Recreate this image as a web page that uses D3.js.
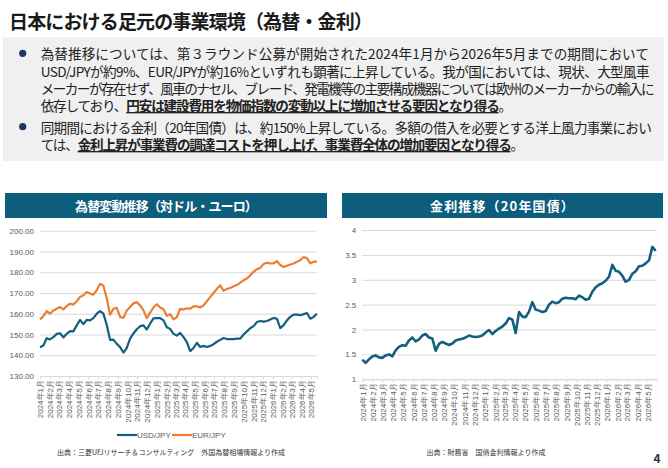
<!DOCTYPE html>
<html>
<head>
<meta charset="utf-8">
<script src="https://cdn.jsdelivr.net/npm/d3@7"></script>
<style>
  html, body { margin: 0; padding: 0; background: #fff; }
  svg { display: block; font-family: "Noto Sans CJK JP", "Noto Sans", sans-serif; }
</style>
</head>
<body>
<div id="page"></div>
<script>
// 為替（USD/JPY, EUR/JPY）: 2024年1月〜2026年5月中旬、ほぼ等間隔のサンプル
const usdJpy = [143.9,144.7,148.2,147.6,148.7,150.3,150.6,148.6,150.3,151.6,
  151.5,154.4,157.0,155.0,157.0,156.8,157.9,160.0,161.3,160.0,
  154.6,147.4,147.5,145.5,143.9,141.3,143.5,148.0,150.5,152.5,
  154.0,154.4,152.4,155.2,157.8,157.9,157.9,156.8,153.5,152.7,
  150.3,149.5,150.8,148.7,146.3,142.0,143.5,146.0,144.0,144.5,
  144.0,144.5,145.3,146.5,147.4,148.3,147.8,147.8,147.8,148.0,
  148.0,150.0,151.5,153.0,154.0,156.0,156.5,156.2,156.5,157.2,
  158.0,157.5,153.1,154.5,156.8,158.5,159.6,159.6,159.3,159.8,
  160.3,157.6,158.5,160.0];
const eurJpy = [157.3,158.8,161.3,160.0,161.6,162.4,163.2,162.1,163.7,164.8,
  164.4,166.0,168.1,168.9,170.5,169.7,169.2,171.3,174.5,173.5,
  167.5,159.5,162.4,162.8,158.5,158.0,161.5,163.2,165.0,165.6,
  164.0,161.6,157.9,160.5,163.0,164.6,163.0,162.2,159.0,159.8,
  157.3,158.4,162.4,162.0,162.6,162.4,163.5,163.6,163.0,164.0,
  166.0,168.0,170.0,172.0,173.7,171.0,172.0,172.4,173.2,173.8,
  175.0,176.1,177.0,178.5,180.2,181.5,182.0,184.0,184.6,184.2,
  184.3,185.3,183.5,182.5,183.1,183.7,184.2,185.0,185.8,187.3,
  186.7,184.3,185.0,185.3];
// 20年国債利回り(%)
const jgb20 = [1.395,1.33,1.40,1.46,1.48,1.44,1.43,1.48,1.50,1.46,
  1.58,1.65,1.685,1.675,1.78,1.84,1.76,1.80,1.88,1.91,
  1.84,1.82,1.575,1.71,1.75,1.72,1.69,1.72,1.78,1.80,
  1.815,1.84,1.88,1.86,1.85,1.86,1.88,1.94,1.99,1.91,
  1.97,2.02,2.06,2.12,2.23,2.20,1.93,2.35,2.26,2.25,
  2.36,2.55,2.40,2.38,2.35,2.37,2.50,2.56,2.53,2.55,
  2.62,2.64,2.63,2.63,2.61,2.68,2.65,2.60,2.62,2.76,
  2.85,2.90,2.93,2.98,3.06,3.30,3.18,3.16,3.08,2.96,
  3.00,3.12,3.17,3.27,3.28,3.33,3.39,3.66,3.58];

const fxTicks = [130, 140, 150, 160, 170, 180, 190, 200];
const rateTicks = [1, 1.5, 2, 2.5, 3, 3.5, 4];
const seriesNames = ["USD/JPY", "EUR/JPY"];
const colors = { usd: "#12607d", eur: "#ee7d31", bar: "#0d5e7c" };

const title = "日本における足元の事業環境（為替・金利）";
// 本文: 各行 [通常, 太字下線, 通常]
const bodyLines = [
  ["為替推移については、第３ラウンド公募が開始された2024年1月から2026年5月までの期間において", "", ""],
  ["USD/JPYが約9%、EUR/JPYが約16%といずれも顕著に上昇している。我が国においては、現状、大型風車", "", ""],
  ["メーカーが存在せず、風車のナセル、ブレード、発電機等の主要構成機器については欧州のメーカーからの輸入に", "", ""],
  ["依存しており、", "円安は建設費用を物価指数の変動以上に増加させる要因となり得る", "。"],
  ["同期間における金利（20年国債）は、約150%上昇している。多額の借入を必要とする洋上風力事業におい", "", ""],
  ["ては、", "金利上昇が事業費の調達コストを押し上げ、事業費全体の増加要因となり得る", "。"]
];
const lineY = [53.3, 70.5, 87.5, 105, 126.7, 144];
const lineEnd = [649, 649, 653, 511, 651, 523];

const W = 668, H = 468;
const svg = d3.select("#page").append("svg")
  .attr("width", W).attr("height", H)
  .attr("viewBox", [0, 0, W, H]);

// 文字間隔で行幅を合わせる
function fit(sel, target) {
  const n = sel.text().length;
  const w = sel.node().getComputedTextLength();
  sel.style("letter-spacing", ((target - w) / n) + "px");
}

// タイトル
svg.append("text")
  .attr("x", 9).attr("y", 20)
  .attr("dominant-baseline", "central")
  .style("font-size", "19px").style("font-weight", "bold")
  .attr("fill", "#1a1a1a")
  .text(title)
  .call(fit, 363);

// 本文ボックス
svg.append("rect")
  .attr("x", 3).attr("y", 37).attr("width", 661).attr("height", 124)
  .attr("fill", "#f0f0f0");

[0, 4].forEach(i => {
  svg.append("circle").attr("cx", 22.7).attr("cy", lineY[i]).attr("r", 3.6).attr("fill", "#1f3768");
});

bodyLines.forEach((parts, i) => {
  const t = svg.append("text")
    .attr("x", 40.7).attr("y", lineY[i])
    .attr("dominant-baseline", "central")
    .style("font-size", "13.6px")
    .attr("fill", "#222");
  t.append("tspan").text(parts[0]);
  if (parts[1]) {
    t.append("tspan").style("font-weight", "bold").style("text-decoration", "underline").text(parts[1]);
    t.append("tspan").text(parts[2]);
  }
  fit(t, lineEnd[i] - 40.7);
});

const monthFmt = d => `${d.getFullYear()}年${d.getMonth() + 1}月`;
const months = d3.timeMonth.range(new Date(2024, 0, 1), new Date(2026, 4, 2));

function datesFor(n, start, end) {
  const s = +start, e = +end;
  return d3.range(n).map(i => new Date(s + (e - s) * i / (n - 1)));
}

function panel(opt) {
  const g = svg.append("g");
  // 見出しバー
  g.append("rect")
    .attr("x", opt.bar[0]).attr("y", 193).attr("width", opt.bar[1]).attr("height", 25)
    .attr("fill", colors.bar);
  g.append("text")
    .attr("x", opt.bar[0] + opt.bar[1] / 2).attr("y", 205.5)
    .attr("text-anchor", "middle").attr("dominant-baseline", "central")
    .attr("fill", "#fff").style("font-size", "13px").style("font-weight", "bold")
    .text(opt.head)
    .call(fit, opt.headW);

  const x = d3.scaleTime().domain(opt.xDomain).range(opt.xRange);
  const y = d3.scaleLinear().domain(opt.yDomain).range(opt.yRange);

  // グリッド・Y軸
  const ya = g.append("g")
    .attr("transform", `translate(${opt.xRange[0]},0)`)
    .call(d3.axisLeft(y).tickValues(opt.yTicks).tickFormat(opt.yFmt)
      .tickSize(-(opt.xRange[1] - opt.xRange[0])).tickPadding(6));
  ya.select(".domain").remove();
  ya.selectAll(".tick line").attr("stroke", "#d9d9d9").attr("stroke-width", 1);
  ya.selectAll(".tick text").attr("fill", "#595959")
    .style("font-family", "'Liberation Sans', Arial, sans-serif").style("font-size", "8px");

  // X軸
  const xa = g.append("g")
    .attr("transform", `translate(0,${opt.yRange[0]})`)
    .call(d3.axisBottom(x).tickValues(months).tickFormat(monthFmt).tickSize(3));
  xa.select(".domain").attr("stroke", "#d9d9d9");
  xa.selectAll(".tick line").attr("stroke", "#d9d9d9");
  xa.selectAll(".tick text")
    .attr("transform", "rotate(-90)")
    .attr("text-anchor", "end")
    .attr("x", -4).attr("y", 0).attr("dy", "0.35em")
    .attr("fill", "#595959").style("font-size", "8px");

  // 系列
  opt.series.forEach(s => {
    const dates = datesFor(s.values.length, opt.xDomain[0], s.end);
    g.append("path")
      .datum(s.values)
      .attr("fill", "none")
      .attr("stroke", s.color)
      .attr("stroke-width", opt.lw)
      .attr("stroke-linejoin", "round")
      .attr("d", d3.line().x((d, i) => x(dates[i])).y(d => y(d)));
  });

  g.append("text")
    .attr("x", opt.srcX).attr("y", 451.5)
    .attr("text-anchor", "middle").attr("dominant-baseline", "central")
    .attr("fill", "#333").style("font-size", "7px")
    .text(opt.src);
  return g;
}

panel({
  bar: [5, 322], head: "為替変動推移（対ドル・ユーロ）", headW: 182,
  xDomain: [new Date(2024, 0, 1), new Date(2026, 4, 20)], xRange: [40, 317],
  yDomain: [130, 200], yRange: [376, 230.7], yTicks: fxTicks, yFmt: d3.format(".2f"),
  lw: 2.2,
  series: [
    { values: usdJpy, color: colors.usd, end: new Date(2026, 4, 20) },
    { values: eurJpy, color: colors.eur, end: new Date(2026, 4, 20) }
  ],
  src: "出典：三菱UFJリサーチ＆コンサルティング　外国為替相場情報より作成", srcX: 171
});

panel({
  bar: [342, 321], head: "金利推移（20年国債）", headW: 145,
  xDomain: [new Date(2024, 0, 1), new Date(2026, 4, 29)], xRange: [362.3, 656.7],
  yDomain: [1, 4], yRange: [379.3, 230], yTicks: rateTicks, yFmt: d3.format(""),
  lw: 2.6,
  series: [{ values: jgb20, color: colors.usd, end: new Date(2026, 4, 26) }],
  src: "出典：財務省　国債金利情報より作成", srcX: 486
});

// 凡例
const legend = svg.append("g").attr("transform", "translate(117,435)");
[colors.usd, colors.eur].forEach((c, i) => {
  const lg = legend.append("g").attr("transform", `translate(${i * 55},0)`);
  lg.append("line").attr("x1", 0).attr("x2", 20).attr("stroke", c).attr("stroke-width", 2.2);
  lg.append("text").attr("x", 20).attr("dominant-baseline", "central")
    .attr("fill", "#595959").style("font-size", "8px")
    .style("font-family", "'Liberation Sans', Arial, sans-serif")
    .text(seriesNames[i]);
});

// ページ番号
svg.append("text").attr("x", 657).attr("y", 457)
  .attr("text-anchor", "middle").attr("dominant-baseline", "central")
  .style("font-size", "12px").style("font-weight", "bold").attr("fill", "#333")
  .text("4");
</script>
</body>
</html>
